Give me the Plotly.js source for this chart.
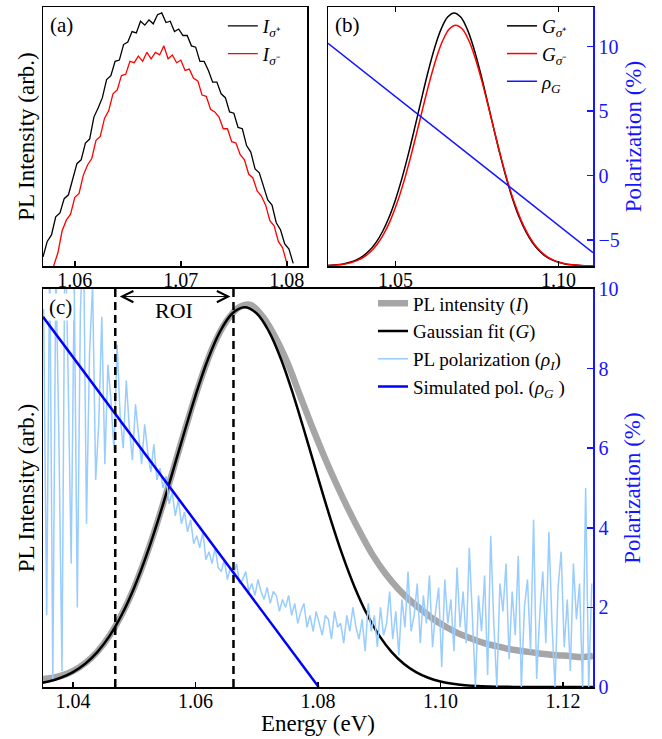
<!DOCTYPE html>
<html><head><meta charset="utf-8">
<script src="https://cdn.plot.ly/plotly-3.0.1.min.js"></script>
<style>html,body{margin:0;padding:0;background:#fff}#chart{width:662px;height:739px}</style>
</head><body><div id="chart"></div>
<script>
// ---------- Panel (a): measured PL spectra (arb. units), evenly sampled ----------
const aSigPlusStart = 1.0570, aSigPlusStep = 0.0004;
const aSigPlus = [3.5,9.5,12,19,20.5,26,27.5,33.5,39.5,41,47.5,49,57.5,61,65,72,73.5,79,79.5,85.5,
  86.5,90.5,90,94.5,93,95,93.5,97,97.7,94,94.5,90.5,91.5,89,89,85,84.5,79,79,75.5,
  71,71,66.5,65,59.5,59,53.5,53,46.5,44,37.5,36,30.6,25.5,23.5,16.7,14,8.5,6.5,1];
const aSigMinusStart = 1.0580, aSigMinusStep = 0.0004;
const aSigMinus = [0,5,13.5,17.7,20,26.5,28,35,39,41.5,48.5,50,57,60,66.5,68,73.5,74,79,78.5,
  81,79,82.5,80,82.5,81.5,85,80,81.5,78.5,79.5,75.5,76,72.5,71.5,66,65.5,60.5,59.5,57.5,
  53,53,48,47.5,43,41,35.5,34,29,27,23.5,17.5,15.5,9.5,7,1];

// ---------- Panel (b): Gaussian components and simulated polarization ----------
const bEnergyPlus = [1.028,1.030,1.032,1.034,1.036,1.038,1.040,1.042,1.044,1.046,1.048,1.050,1.052,1.054,1.056,1.058,1.060,1.062,1.064,1.066,1.068,
  1.070,1.072,1.074,1.076,1.078,1.080,1.082,1.084,1.086,1.088,1.090,1.092,1.094,1.096,1.098,1.100,1.102,1.104,1.106,1.108,1.110,1.112];
const bGPlus = [0.13,0.25,0.46,0.82,1.42,2.37,3.83,5.98,9.05,13.22,18.71,25.62,33.92,43.47,53.89,64.63,75.0,84.2,91.45,96.1,97.7,
  96.1,91.45,84.2,75.0,64.63,53.89,43.47,33.92,25.62,18.71,13.22,9.05,5.98,3.83,2.37,1.42,0.82,0.46,0.25,0.13,0.07,0.03];
const bEnergyMinus = [1.0285,1.0305,1.0325,1.0345,1.0365,1.0385,1.0405,1.0425,1.0445,1.0465,1.0485,1.0505,1.0525,1.0545,1.0565,1.0585,1.0605,1.0625,1.0645,1.0665,1.0685,
  1.0705,1.0725,1.0745,1.0765,1.0785,1.0805,1.0825,1.0845,1.0865,1.0885,1.0905,1.0925,1.0945,1.0965,1.0985,1.1005,1.1025,1.1045,1.1065,1.1085,1.1105,1.1125];
const bGMinus = [0.12,0.24,0.44,0.78,1.35,2.26,3.65,5.69,8.61,12.58,17.81,24.38,32.29,41.38,51.3,61.52,71.39,80.15,87.05,91.47,93,
  91.47,87.05,80.15,71.39,61.52,51.3,41.38,32.29,24.38,17.81,12.58,8.61,5.69,3.65,2.26,1.35,0.78,0.44,0.24,0.12,0.06,0.03];
const bRhoEnergy = [1.0293, 1.1106];
const bRho = [10.26, -5.98];

// ---------- Panel (c): PL intensity, Gaussian fit, polarizations ----------
const cIntEnergy = [1.0351,1.037,1.039,1.041,1.043,1.045,1.047,1.049,1.051,1.053,1.055,1.057,1.059,1.061,1.063,1.065,1.067,1.069,1.071,1.073,1.075,1.077,1.079,
  1.081,1.083,1.085,1.087,1.089,1.091,1.093,1.095,1.097,1.099,1.101,1.103,1.105,1.107,1.109,1.111,1.113,1.115,1.117,1.119,1.121,1.123,1.1249];
const cIntensity = [2.0,2.4,3.3,4.9,7.3,10.8,15.5,21.5,29,37.7,47.5,58,68.3,77.9,86,91.8,95.3,96,93,88,81.5,73.5,65.5,
  58,51,44.5,38.5,33,28.5,24.8,21.8,19.3,16.9,15,13.4,12.2,11.1,10.3,9.6,9.1,8.7,8.3,8.0,7.8,7.5,7.8];
const cFitEnergy = [1.034,1.036,1.038,1.040,1.042,1.044,1.046,1.048,1.050,1.052,1.054,1.056,1.058,1.060,1.062,1.064,1.066,1.068,
  1.070,1.072,1.074,1.076,1.078,1.080,1.082,1.084,1.086,1.088,1.090,1.092,1.094,1.096,1.098,1.100,1.102,
  1.104,1.106,1.108,1.110,1.112,1.114,1.116,1.118,1.120,1.122,1.124,1.126];
const cFit = [0.80,1.39,2.32,3.74,5.84,8.83,12.91,18.27,25.01,33.12,42.44,52.62,63.11,73.23,82.22,89.29,93.84,95.4,
  93.84,89.29,82.22,73.23,63.11,52.62,42.44,33.12,25.01,18.27,12.91,8.83,5.84,3.74,2.32,1.39,0.80,
  0.45,0.24,0.13,0.06,0.03,0.02,0.01,0,0,0,0,0];
const cPolStart = 1.0352, cPolStep = 0.0005;
const cPolMeasured = [9.5,1.8,11,0.2,10.6,6.2,0.4,12,7.8,3.1,10.2,2.0,9.4,11.5,4.1,8.4,10.1,5.2,6.6,9.3,
  5.6,8.1,7.2,5.9,8.6,6.8,6.0,7.7,6.5,5.7,7.1,6.3,5.6,6.6,5.9,5.4,6.1,5.2,5.5,5.0,
  5.3,4.6,4.9,4.3,4.7,4.1,4.4,3.9,4.2,3.6,3.8,3.5,3.9,3.2,3.4,3.1,3.5,3.0,2.9,3.2,
  2.7,3.0,2.8,3.1,2.6,2.7,2.9,2.4,2.6,2.3,2.7,2.4,2.2,2.5,2.1,2.4,2.3,1.9,2.2,2.0,
  2.3,1.8,2.1,1.6,1.9,2.1,1.5,1.8,1.4,1.9,1.6,1.3,1.8,1.7,1.2,1.9,1.5,1.6,1.1,1.8,
  1.4,2.0,1.5,1.2,1.7,0.9,2.1,1.4,1.8,1.0,2.0,1.3,1.6,2.4,1.2,1.9,0.8,2.2,1.5,2.9,
  1.4,1.8,2.6,1.1,2.3,1.6,2.8,1.0,1.9,2.5,0.5,2.7,1.6,2.2,0.9,3.0,1.5,2.4,1.1,3.5,
  1.8,0.0,2.3,1.4,2.8,0.3,3.8,1.6,0.0,2.6,1.9,3.1,0.7,2.4,1.3,3.3,0.0,2.0,2.7,0.9,
  4.2,0.2,1.8,2.9,1.1,3.9,1.6,0.0,2.5,3.4,1.0,2.2,0.4,3.1,1.7,2.6,0.0,5.0,0.0,2.6];
const cRhoEnergy = [1.0351, 1.0801];
const cRho = [9.3, 0];
const roiBounds = [1.0469, 1.0662];

// ---------- styling ----------
const FONT = '"Liberation Serif", "Times New Roman", serif';
const BLUE = '#1515ff';

const traces = [
  {x0: aSigPlusStart, dx: aSigPlusStep, y: aSigPlus, type:'scatter', mode:'lines', xaxis:'x', yaxis:'y',
   line:{color:'black', width:1.3}, name:'<i>I</i><sub><i>σ</i>⁺</sub>', legend:'legend'},
  {x0: aSigMinusStart, dx: aSigMinusStep, y: aSigMinus, type:'scatter', mode:'lines', xaxis:'x', yaxis:'y',
   line:{color:'#ff0000', width:1.3}, name:'<i>I</i><sub><i>σ</i>⁻</sub>', legend:'legend'},

  {x: bEnergyPlus, y: bGPlus, type:'scatter', mode:'lines', xaxis:'x2', yaxis:'y2', line:{color:'black', width:1.5, shape:'spline'},
   name:'<i>G</i><sub><i>σ</i>⁺</sub>', legend:'legend2'},
  {x: bEnergyMinus, y: bGMinus, type:'scatter', mode:'lines', xaxis:'x2', yaxis:'y2', line:{color:'#ff0000', width:1.5, shape:'spline'},
   name:'<i>G</i><sub><i>σ</i>⁻</sub>', legend:'legend2'},
  {x: bRhoEnergy, y: bRho, type:'scatter', mode:'lines', xaxis:'x2', yaxis:'y3', line:{color:BLUE, width:1.5},
   name:'<i>ρ</i><sub><i>G</i></sub>', legend:'legend2'},

  {x: cIntEnergy, y: cIntensity, type:'scatter', mode:'lines', xaxis:'x3', yaxis:'y4', line:{color:'#a6a6a6', width:6.5, shape:'spline'},
   name:'PL intensity (<i>I</i>)', legend:'legend3'},
  {x: cFitEnergy, y: cFit, type:'scatter', mode:'lines', xaxis:'x3', yaxis:'y4', line:{color:'black', width:2.5, shape:'spline'},
   name:'Gaussian fit (<i>G</i>)', legend:'legend3'},
  {x0: cPolStart, dx: cPolStep, y: cPolMeasured, type:'scatter', mode:'lines', xaxis:'x3', yaxis:'y5', line:{color:'#99ccff', width:1.5},
   name:'PL polarization (<i>ρ</i><sub><i>I</i></sub>)', legend:'legend3'},
  {x: cRhoEnergy, y: cRho, type:'scatter', mode:'lines', xaxis:'x3', yaxis:'y5', line:{color:'#0000ff', width:2.5},
   name:'Simulated pol. (<i>ρ</i><sub><i>G</i></sub> )', legend:'legend3'}
];

const baseX = {ticks:'inside', ticklen:5, tickwidth:1.5, tickcolor:'black', showline:true, linewidth:1.5, linecolor:'black',
  showgrid:false, zeroline:false, tickfont:{size:20, family:FONT}, tickformat:'.2f', ticklabelstandoff:-5};
const hiddenY = {showticklabels:false, ticks:'', showline:true, linewidth:1.5, linecolor:'black', showgrid:false, zeroline:false};
const blueY = {ticks:'inside', ticklen:6, tickwidth:1.5, tickcolor:BLUE, showline:true, linewidth:1.5, linecolor:BLUE,
  showgrid:false, zeroline:false, tickfont:{size:20, color:BLUE, family:FONT}};

const legendBase = {bgcolor:'rgba(0,0,0,0)', borderwidth:0, font:{size:19, family:FONT}, xanchor:'left', yanchor:'top', tracegroupgap:0};

const layout = {
  width:662, height:739,
  margin:{l:43, r:69, t:7, b:52},
  paper_bgcolor:'white', plot_bgcolor:'rgba(0,0,0,0)',
  font:{family:FONT, size:20, color:'black'},
  showlegend:true,
  xaxis: Object.assign({}, baseX, {domain:[0,0.48], range:[1.0570,1.0819], anchor:'y', tickvals:[1.06,1.07,1.08], mirror:true}),
  yaxis: Object.assign({}, hiddenY, {domain:[0.6191,1], range:[0,100], anchor:'x', mirror:true,
    title:{text:'PL Intensity (arb.)', font:{size:23}, standoff:0}}),
  xaxis2: Object.assign({}, baseX, {domain:[0.5182,1], range:[1.0293,1.1106], anchor:'y2', tickvals:[1.05,1.10], mirror:'ticks'}),
  yaxis2: Object.assign({}, hiddenY, {domain:[0.6191,1], range:[0,100], anchor:'x2'}),
  yaxis3: Object.assign({}, blueY, {overlaying:'y2', side:'right', anchor:'x2', range:[-7.02,13.08], tickvals:[-5,0,5,10],
    title:{text:'Polarization (%)', font:{size:23, color:BLUE}, standoff:6}}),
  xaxis3: Object.assign({}, baseX, {domain:[0,1], range:[1.0351,1.1249], anchor:'y4', tickvals:[1.04,1.06,1.08,1.10,1.12], mirror:true,
    title:{text:'Energy (eV)', font:{size:23}, standoff:2}}),
  yaxis4: Object.assign({}, hiddenY, {domain:[0,0.5853], range:[0,100], anchor:'x3',
    title:{text:'PL Intensity (arb.)', font:{size:23}, standoff:0}}),
  yaxis5: Object.assign({}, blueY, {overlaying:'y4', side:'right', anchor:'x3', range:[0,10], dtick:2, tick0:0,
    title:{text:'Polarization (%)', font:{size:23, color:BLUE}, standoff:6}}),
  legend: Object.assign({}, legendBase, {x:0.327, y:1.0}),
  legend2: Object.assign({}, legendBase, {x:0.8345, y:1.0}),
  legend3: Object.assign({}, legendBase, {x:0.600, y:0.592}),
  shapes: roiBounds.map(e => ({type:'line', xref:'x3', yref:'y4 domain', x0:e, x1:e, y0:0, y1:1, layer:'above',
    line:{color:'black', width:2.5, dash:'8px,5px'}})),
  annotations: [
    {xref:'x domain', yref:'y domain', x:0.018, y:0.985, xanchor:'left', yanchor:'top', text:'(a)', showarrow:false, font:{size:21}},
    {xref:'x2 domain', yref:'y2 domain', x:0.018, y:0.985, xanchor:'left', yanchor:'top', text:'(b)', showarrow:false, font:{size:21}},
    {xref:'x3 domain', yref:'y4 domain', x:0.008, y:0.99, xanchor:'left', yanchor:'top', text:'(c)', showarrow:false, font:{size:21},
     bgcolor:'white'},
    {xref:'x3', yref:'y5', x:(roiBounds[0]+roiBounds[1])/2, y:9.45, text:'ROI', showarrow:false, font:{size:22}},
    {xref:'x3', yref:'y5', axref:'x3', ayref:'y5', x:roiBounds[1], y:9.81, ax:roiBounds[0], ay:9.81, text:'',
     showarrow:true, arrowhead:5, startarrowhead:5, arrowside:'end+start', arrowsize:2.2, startarrowsize:2.2, arrowwidth:1,
     arrowcolor:'black', standoff:3, startstandoff:3}
  ]
};

Plotly.newPlot('chart', traces, layout, {displayModeBar:false, staticPlot:true});
</script></body></html>
